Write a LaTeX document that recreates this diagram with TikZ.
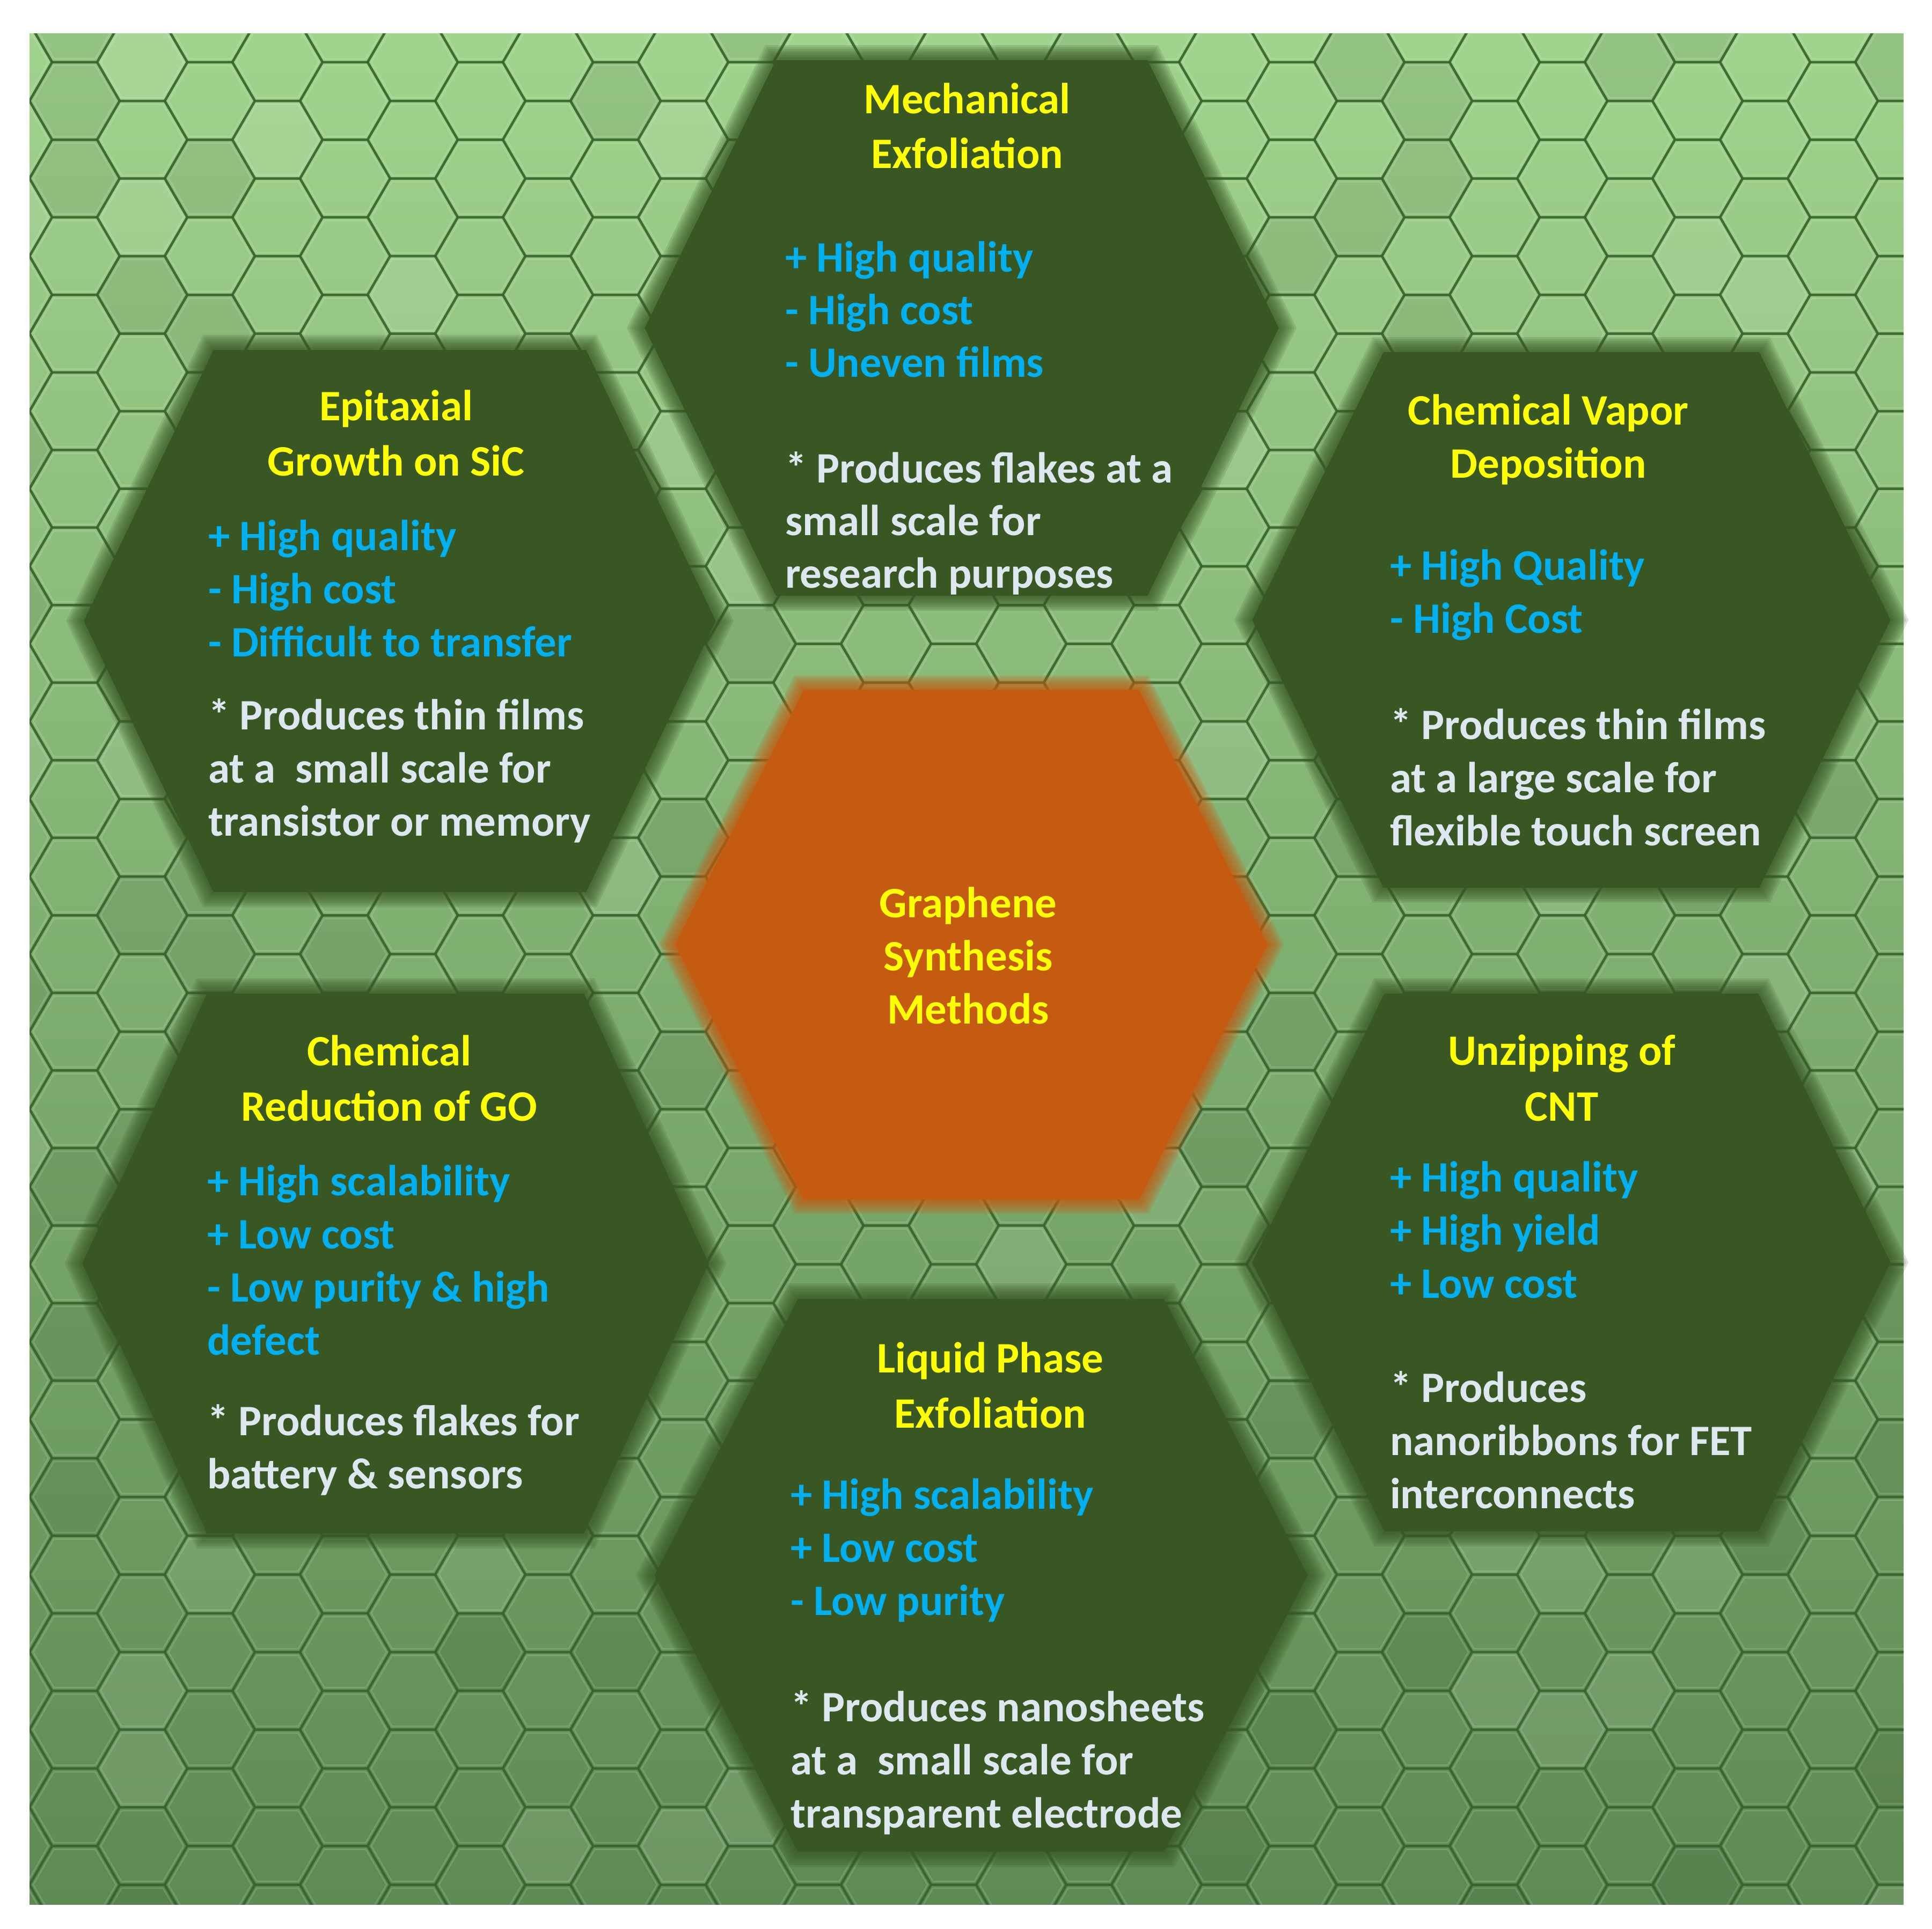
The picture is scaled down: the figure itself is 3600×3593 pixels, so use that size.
\documentclass[tikz,border=0pt]{standalone}
\usepackage{fontspec}
\setmainfont{Carlito}
\definecolor{hexgreen}{HTML}{385723}
\definecolor{hexorange}{HTML}{C55A11}
\definecolor{ttlyellow}{HTML}{FFFF00}
\definecolor{problue}{HTML}{00B0F0}
\definecolor{notewhite}{HTML}{DEE6EF}
\definecolor{bgtop}{HTML}{A0D38C}
\definecolor{bgmid}{HTML}{8ABE78}
\definecolor{bgbot}{HTML}{5E8B53}
\definecolor{tileline}{HTML}{36642C}
\tikzset{
  txt/.style={font=\fontsize{23}{28}\selectfont\bfseries, inner sep=0pt, outer sep=0pt},
  ttl/.style={txt, text=ttlyellow, anchor=base},
  pro/.style={txt, text=problue, anchor=base west},
  note/.style={txt, text=notewhite, anchor=base west},
  tilestroke/.style={draw=tileline, draw opacity=0.7, line width=0.045cm, line join=round},
  tileglow/.style={draw=white, draw opacity=0.14, line width=0.025cm, line join=round},
}
% soft-edged hexagon: cx, cy, a (half width), b (half top edge), h (half height), colour
\newcommand\softhex[6]{%
  \begin{scope}[shift={(#1,#2)}]
    \foreach \sc in {1.054,1.047,1.040,1.033,1.026,1.019,1.012,1.006}{%
      \fill[#6, opacity=0.16, scale=\sc] (-#3,0) -- (-#4,-#5) -- (#4,-#5) -- (#3,0) -- (#4,#5) -- (-#4,#5) -- cycle;
    }
    \fill[#6, scale=0.998] (-#3,0) -- (-#4,-#5) -- (#4,-#5) -- (#3,0) -- (#4,#5) -- (-#4,#5) -- cycle;
  \end{scope}}
\begin{document}
\begin{tikzpicture}[x=0.01cm, y=-0.01cm]
\useasboundingbox (0,0) rectangle (3600,3593);
\fill[white] (0,0) rectangle (3600,3593);
% honeycomb background
\begin{scope}
  \clip (55,62) rectangle (3547,3548);
  \shade[top color=bgtop, middle color=bgmid, bottom color=bgbot] (55,62) rectangle (3547,3548);
  \pgfmathsetseed{4242}
  \foreach \i in {-1,...,28}{%
    \pgfmathsetmacro\cx{139+126*\i}
    \pgfmathsetmacro\oy{ifthenelse(mod(\i,2)==0,188,115.75)}
    \foreach \j in {-1,...,24}{%
      \pgfmathsetmacro\cy{\oy+144.5*\j}
      \pgfmathrandominteger{\r}{0}{99}
      \ifnum\r<11
        \fill[black, opacity=0.07] (\cx,\cy) ++(-84,0) -- ++(42,-72.25) -- ++(84,0) -- ++(42,72.25) -- ++(-42,72.25) -- ++(-84,0) -- cycle;
      \fi
      \ifnum\r>89
        \fill[white, opacity=0.09] (\cx,\cy) ++(-84,0) -- ++(42,-72.25) -- ++(84,0) -- ++(42,72.25) -- ++(-42,72.25) -- ++(-84,0) -- cycle;
      \fi
      \path[tileglow] (\cx,\cy) ++(-77,0) -- ++(38.5,-66) -- ++(77,0) -- ++(38.5,66) -- ++(-38.5,66) -- ++(-77,0) -- cycle;
      \path[tilestroke] (\cx,\cy) ++(-84,0) -- ++(42,-72.25) -- ++(84,0) -- ++(42,72.25) -- ++(-42,72.25) -- ++(-84,0) -- cycle;
    }
  }
\end{scope}
% big hexagons
\softhex{1792}{611}{592}{347}{500}{hexgreen}
\softhex{745}{1157}{590}{348}{506}{hexgreen}
\softhex{2928}{1155}{596}{351}{500}{hexgreen}
\softhex{737}{2354}{585}{352}{504}{hexgreen}
\softhex{2928}{2352}{596}{349}{502}{hexgreen}
\softhex{1828}{2935}{610}{342}{516}{hexgreen}
\softhex{1810}{1760}{553}{313}{476}{hexorange}
% centre
\node[ttl] (c1) at (1804,1709) {Graphene};
\node[ttl] (c2) at (1804,1808) {Synthesis};
\node[ttl] (c3) at (1804,1907) {Methods};
% Mechanical Exfoliation
\node[ttl] (me1) at (1802,211) {Mechanical};
\node[ttl] (me2) at (1802,313) {Exfoliation};
\node[pro] (me3) at (1463,506) {+ High quality};
\node[pro] (me4) at (1463,604) {- High cost};
\node[pro] (me5) at (1463,702) {- Uneven films};
\node[note] (me6) at (1463,899) {* Produces flakes at a};
\node[note] (me7) at (1463,997) {small scale for};
\node[note] (me8) at (1463,1095) {research purposes};
% Epitaxial Growth
\node[ttl] (ep1) at (738,783) {Epitaxial};
\node[ttl] (ep2) at (738,886) {Growth on SiC};
\node[pro] (ep3) at (388,1025) {+ High quality};
\node[pro] (ep4) at (388,1124) {- High cost};
\node[pro] (ep5) at (388,1223) {- Difficult to transfer};
\node[note] (ep6) at (388,1359) {* Produces thin films};
\node[note] (ep7) at (388,1458) {at a~ small scale for};
\node[note] (ep8) at (388,1557) {transistor or memory};
% CVD
\node[ttl] (cv1) at (2885,791) {Chemical Vapor};
\node[ttl] (cv2) at (2885,890) {Deposition};
\node[pro] (cv3) at (2590,1080) {+ High Quality};
\node[pro] (cv4) at (2590,1179) {- High Cost};
\node[note] (cv5) at (2590,1377) {* Produces thin films};
\node[note] (cv6) at (2590,1476) {at a large scale for};
\node[note] (cv7) at (2590,1575) {flexible touch screen};
% Chemical Reduction
\node[ttl] (cr1) at (725,1985) {Chemical};
\node[ttl] (cr2) at (725,2088) {Reduction of GO};
\node[pro] (cr3) at (386,2227) {+ High scalability};
\node[pro] (cr4) at (386,2326) {+ Low cost};
\node[pro] (cr5) at (386,2425) {- Low purity \& high};
\node[pro] (cr6) at (386,2524) {defect};
\node[note] (cr7) at (386,2674) {* Produces flakes for};
\node[note] (cr8) at (386,2773) {battery \& sensors};
% Unzipping
\node[ttl] (un1) at (2910,1984) {Unzipping of};
\node[ttl] (un2) at (2910,2088) {CNT};
\node[pro] (un3) at (2590,2220) {+ High quality};
\node[pro] (un4) at (2590,2319) {+ High yield};
\node[pro] (un5) at (2590,2418) {+ Low cost};
\node[note] (un6) at (2590,2612) {* Produces};
\node[note] (un7) at (2590,2711) {nanoribbons for FET};
\node[note] (un8) at (2590,2810) {interconnects};
% Liquid Phase
\node[ttl] (lp1) at (1845,2557) {Liquid Phase};
\node[ttl] (lp2) at (1845,2660) {Exfoliation};
\node[pro] (lp3) at (1473,2811) {+ High scalability};
\node[pro] (lp4) at (1473,2910) {+ Low cost};
\node[pro] (lp5) at (1473,3009) {- Low purity};
\node[note] (lp6) at (1473,3207) {* Produces nanosheets};
\node[note] (lp7) at (1473,3306) {at a~ small scale for};
\node[note] (lp8) at (1473,3405) {transparent electrode};
\end{tikzpicture}
\end{document}
